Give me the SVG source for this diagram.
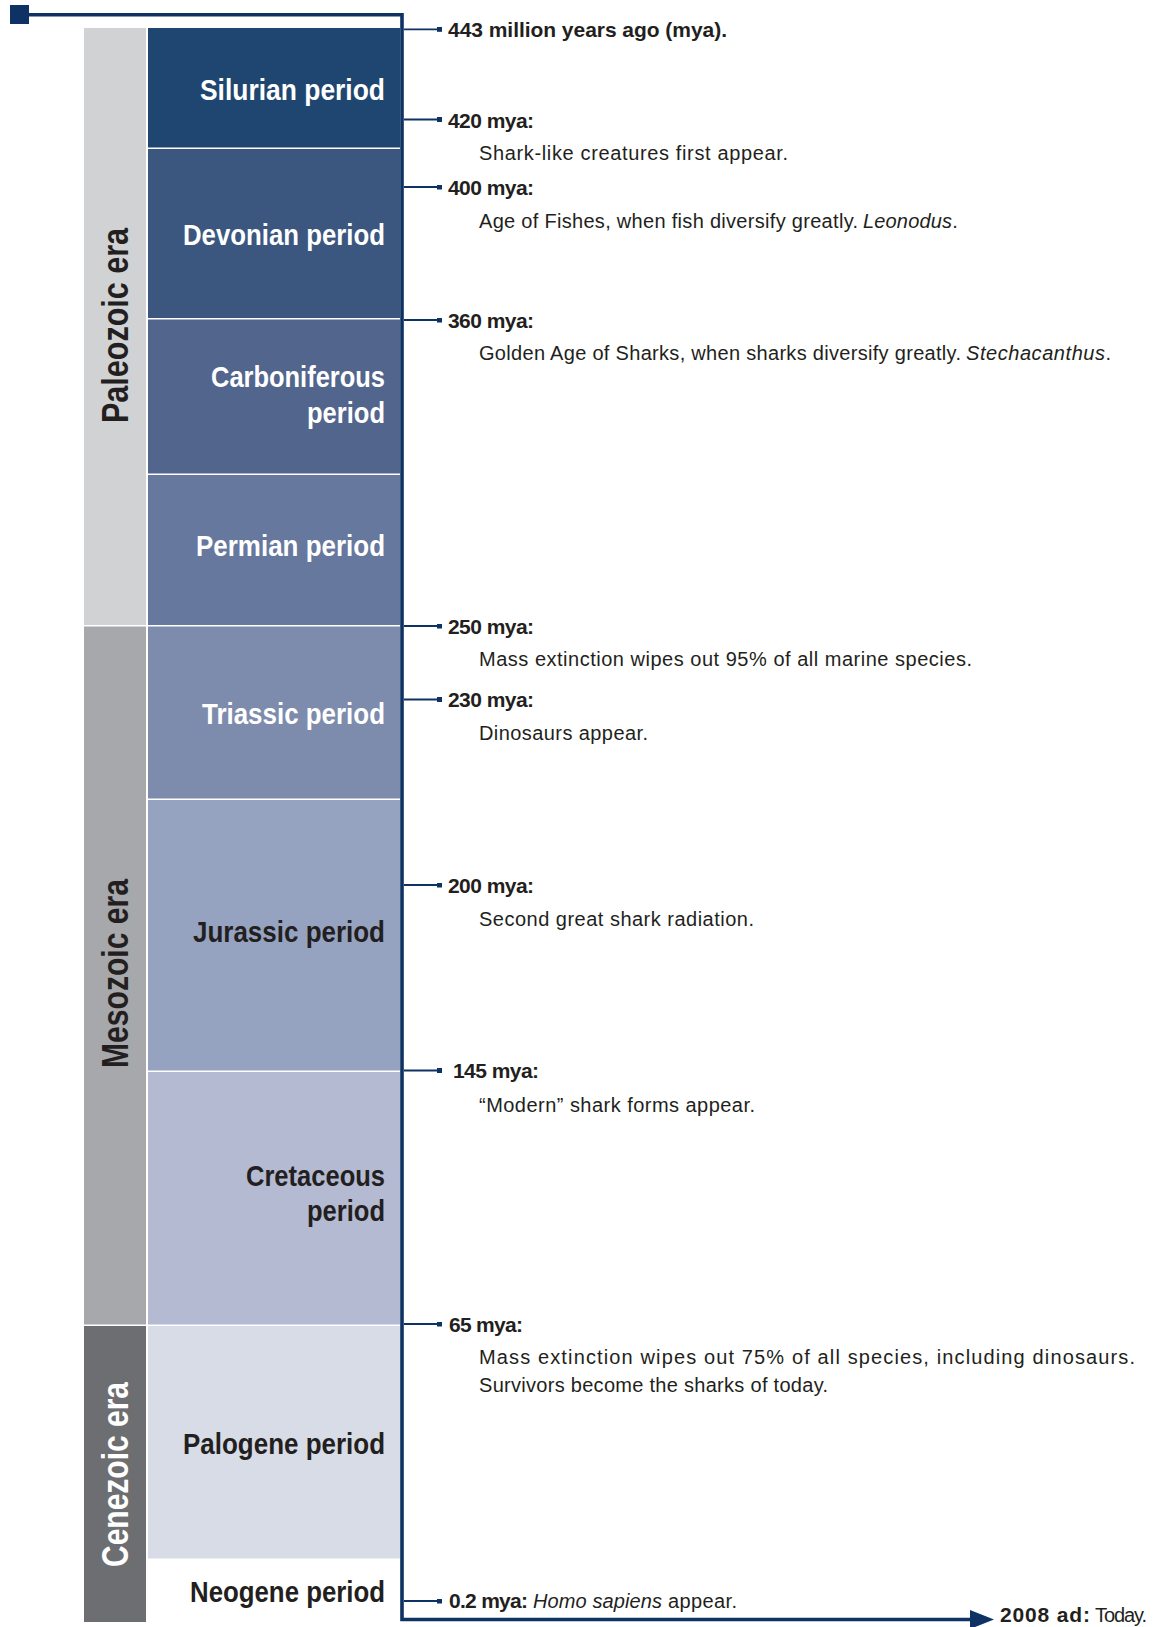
<svg xmlns="http://www.w3.org/2000/svg" width="1158" height="1627" viewBox="0 0 1158 1627">
<style>
  text { font-family: "Liberation Sans", Arial, sans-serif; }
  .pl { font-size: 29.5px; font-weight: bold; text-anchor: end; }
  .era { font-size: 36px; font-weight: bold; text-anchor: middle; }
  .w { fill: #ffffff; }
  .d { fill: #231f20; }
  .lab { font-size: 21px; font-weight: bold; fill: #231f20; }
  .desc { font-size: 20px; fill: #231f20; }
  .it { font-style: italic; }
  .axis { fill: none; stroke: #0d3263; stroke-width: 3.6; stroke-linejoin: miter; }
  .tick { stroke: #0d3263; stroke-width: 1.8; }
</style>
<defs>
  <marker id="sq" markerUnits="userSpaceOnUse" viewBox="0 0 5 5" markerWidth="5" markerHeight="5" refX="0" refY="2.5" orient="auto">
    <rect x="0" y="0" width="5" height="5" fill="#0d3263"/>
  </marker>
  <marker id="arr" markerUnits="userSpaceOnUse" viewBox="0 0 24 19" markerWidth="24" markerHeight="19" refX="1" refY="9.5" orient="auto">
    <path d="M0,0 L24,9.5 L0,19 Z" fill="#0d3263"/>
  </marker>
</defs>
<rect width="1158" height="1627" fill="#ffffff"/>

<!-- Eras -->
<g id="era-paleozoic">
  <rect x="84" y="28" width="62" height="597" fill="#d1d2d4"/>
  <text class="era d" transform="translate(128,325.5) rotate(-90)" textLength="195" lengthAdjust="spacingAndGlyphs">Paleozoic era</text>
</g>
<g id="era-mesozoic">
  <rect x="84" y="626.5" width="62" height="698" fill="#a7a8ab"/>
  <text class="era d" transform="translate(128,973.5) rotate(-90)" textLength="189" lengthAdjust="spacingAndGlyphs">Mesozoic era</text>
</g>
<g id="era-cenezoic">
  <rect x="84" y="1326" width="62" height="296" fill="#6d6e71"/>
  <text class="era w" transform="translate(128,1474.5) rotate(-90)" textLength="185" lengthAdjust="spacingAndGlyphs">Cenezoic era</text>
</g>

<!-- Periods -->
<g id="period-silurian">
  <rect x="148" y="28" width="252" height="119.5" fill="#1f4670"/>
  <text class="pl w" x="385" y="100" textLength="185" lengthAdjust="spacingAndGlyphs">Silurian period</text>
</g>
<g id="period-devonian">
  <rect x="148" y="149" width="252" height="169" fill="#3b567f"/>
  <text class="pl w" x="385" y="245" textLength="202" lengthAdjust="spacingAndGlyphs">Devonian period</text>
</g>
<g id="period-carboniferous">
  <rect x="148" y="319.5" width="252" height="154" fill="#52658c"/>
  <text class="pl w" x="385" y="387" textLength="174" lengthAdjust="spacingAndGlyphs">Carboniferous</text>
  <text class="pl w" x="385" y="423" textLength="78" lengthAdjust="spacingAndGlyphs">period</text>
</g>
<g id="period-permian">
  <rect x="148" y="475" width="252" height="150" fill="#67789e"/>
  <text class="pl w" x="385" y="556" textLength="189" lengthAdjust="spacingAndGlyphs">Permian period</text>
</g>
<g id="period-triassic">
  <rect x="148" y="626.5" width="252" height="172" fill="#7d8cad"/>
  <text class="pl w" x="385" y="724" textLength="183" lengthAdjust="spacingAndGlyphs">Triassic period</text>
</g>
<g id="period-jurassic">
  <rect x="148" y="800" width="252" height="270.5" fill="#95a3c0"/>
  <text class="pl d" x="385" y="942" textLength="192" lengthAdjust="spacingAndGlyphs">Jurassic period</text>
</g>
<g id="period-cretaceous">
  <rect x="148" y="1072" width="252" height="252.5" fill="#b3bad2"/>
  <text class="pl d" x="385" y="1186" textLength="139" lengthAdjust="spacingAndGlyphs">Cretaceous</text>
  <text class="pl d" x="385" y="1221" textLength="78" lengthAdjust="spacingAndGlyphs">period</text>
</g>
<g id="period-palogene">
  <rect x="148" y="1326" width="252" height="232.5" fill="#d8dce6"/>
  <text class="pl d" x="385" y="1454" textLength="202" lengthAdjust="spacingAndGlyphs">Palogene period</text>
</g>
<g id="period-neogene">
  <text class="pl d" x="385" y="1602" textLength="195" lengthAdjust="spacingAndGlyphs">Neogene period</text>
</g>

<!-- Connectors: timeline axis and ticks -->
<g id="connectors">
  <rect x="10" y="5" width="19" height="19" fill="#0d3263"/>
  <path class="axis" d="M28,14.7 H402 V1619.5 H971" marker-end="url(#arr)"/>
  <line class="tick" x1="404" y1="29.3" x2="437" y2="29.3" marker-end="url(#sq)"/>
  <line class="tick" x1="404" y1="119.5" x2="437" y2="119.5" marker-end="url(#sq)"/>
  <line class="tick" x1="404" y1="187" x2="437" y2="187" marker-end="url(#sq)"/>
  <line class="tick" x1="404" y1="320" x2="437" y2="320" marker-end="url(#sq)"/>
  <line class="tick" x1="404" y1="626" x2="437" y2="626" marker-end="url(#sq)"/>
  <line class="tick" x1="404" y1="699.5" x2="437" y2="699.5" marker-end="url(#sq)"/>
  <line class="tick" x1="404" y1="885" x2="437" y2="885" marker-end="url(#sq)"/>
  <line class="tick" x1="404" y1="1070.5" x2="437" y2="1070.5" marker-end="url(#sq)"/>
  <line class="tick" x1="404" y1="1324" x2="437" y2="1324" marker-end="url(#sq)"/>
  <line class="tick" x1="404" y1="1601" x2="437" y2="1601" marker-end="url(#sq)"/>
</g>

<!-- Events -->
<g id="event-443">
  <text class="lab" x="448" y="36.5" textLength="279">443 million years ago (mya).</text>
</g>
<g id="event-420">
  <text class="lab" x="448" y="127.5" textLength="86">420 mya:</text>
  <text class="desc" x="479" y="160" textLength="309">Shark-like creatures first appear.</text>
</g>
<g id="event-400">
  <text class="lab" x="448" y="195" textLength="86">400 mya:</text>
  <text class="desc" x="479" y="228" textLength="379">Age of Fishes, when fish diversify greatly.</text>
  <text class="desc" x="863" y="228"><tspan class="it" textLength="89">Leonodus</tspan>.</text>
</g>
<g id="event-360">
  <text class="lab" x="448" y="327.5" textLength="86">360 mya:</text>
  <text class="desc" x="479" y="360" textLength="482">Golden Age of Sharks, when sharks diversify greatly.</text>
  <text class="desc" x="966" y="360"><tspan class="it" textLength="139">Stechacanthus</tspan>.</text>
</g>
<g id="event-250">
  <text class="lab" x="448" y="633.5" textLength="86">250 mya:</text>
  <text class="desc" x="479" y="666" textLength="493">Mass extinction wipes out 95% of all marine species.</text>
</g>
<g id="event-230">
  <text class="lab" x="448" y="707" textLength="86">230 mya:</text>
  <text class="desc" x="479" y="740" textLength="169">Dinosaurs appear.</text>
</g>
<g id="event-200">
  <text class="lab" x="448" y="893" textLength="86">200 mya:</text>
  <text class="desc" x="479" y="926" textLength="275">Second great shark radiation.</text>
</g>
<g id="event-145">
  <text class="lab" x="453" y="1078" textLength="86">145 mya:</text>
  <text class="desc" x="479" y="1112" textLength="276">“Modern” shark forms appear.</text>
</g>
<g id="event-65">
  <text class="lab" x="449" y="1332" textLength="74">65 mya:</text>
  <text class="desc" x="479" y="1364" textLength="656">Mass extinction wipes out 75% of all species, including dinosaurs.</text>
  <text class="desc" x="479" y="1392" textLength="349">Survivors become the sharks of today.</text>
</g>
<g id="event-0-2">
  <text class="lab" x="449" y="1608" textLength="79">0.2 mya:</text>
  <text class="desc it" x="533" y="1608" textLength="129">Homo sapiens</text>
  <text class="desc" x="668" y="1608" textLength="69">appear.</text>
</g>
<g id="event-2008">
  <text class="lab" x="1000" y="1622" textLength="90">2008 ad:</text>
  <text class="desc" x="1095" y="1622" textLength="52">Today.</text>
</g>
</svg>
